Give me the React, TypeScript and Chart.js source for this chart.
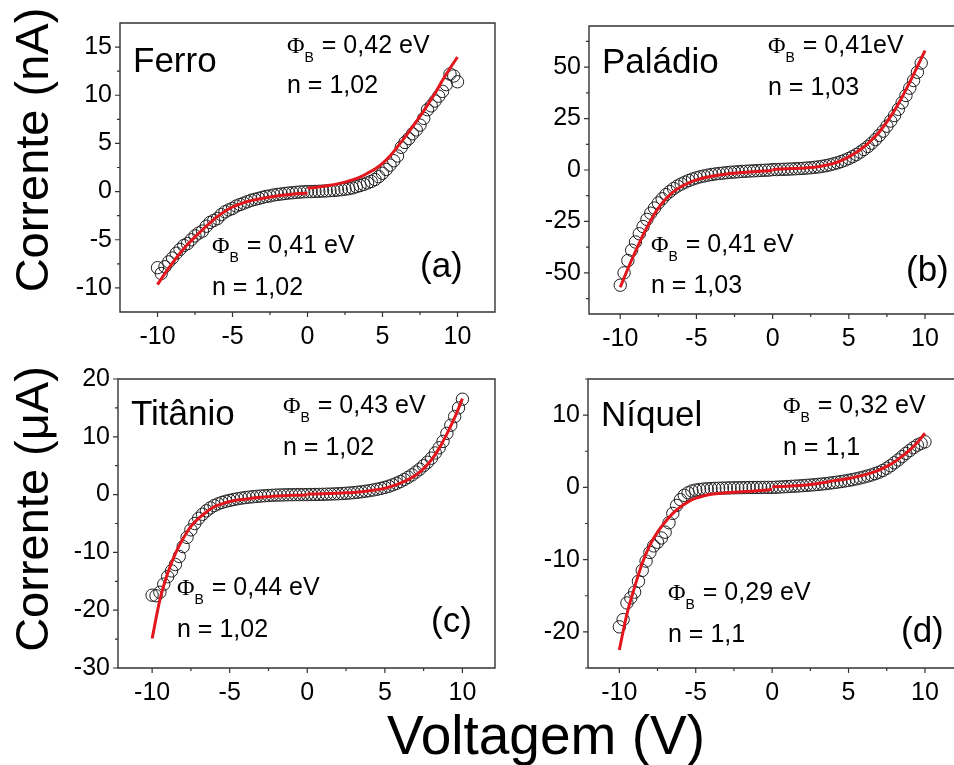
import React, { useEffect, useRef } from 'react';
import { Chart, registerables } from 'chart.js';

Chart.register(...registerables);

// ---------- data ----------
const VOLTAGE = [
  -10, -9.75, -9.5, -9.25, -9, -8.75, -8.5, -8.25, -8, -7.75,
  -7.5, -7.25, -7, -6.75, -6.5, -6.25, -6, -5.75, -5.5, -5.25,
  -5, -4.75, -4.5, -4.25, -4, -3.75, -3.5, -3.25, -3, -2.75,
  -2.5, -2.25, -2, -1.75, -1.5, -1.25, -1, -0.75, -0.5, -0.25,
  0,
  0.25, 0.5, 0.75, 1, 1.25, 1.5, 1.75, 2, 2.25, 2.5,
  2.75, 3, 3.25, 3.5, 3.75, 4, 4.25, 4.5, 4.75, 5,
  5.25, 5.5, 5.75, 6, 6.25, 6.5, 6.75, 7, 7.25, 7.5,
  7.75, 8, 8.25, 8.5, 8.75, 9, 9.25, 9.5, 9.75, 10,
];
const FIT_V_NEG = [-10, -9.5, -9, -8.5, -8, -7.5, -7, -6.5, -6, -5.5, -5, -4.5, -4, -3.5, -3, -2.5, -2, -1.5, -1, -0.5, 0];
const FIT_V_POS = [0, 0.5, 1, 1.5, 2, 2.5, 3, 3.5, 4, 4.5, 5, 5.5, 6, 6.5, 7, 7.5, 8, 8.5, 9, 9.5, 10];

// (a) Ferro, nA
const FERRO_I = [
  -7.9, -8.5, -7.8, -7.3, -6.9, -6.4, -6.0, -5.6, -5.4, -5.0,
  -4.6, -4.3, -4.1, -3.6, -3.2, -3.0, -2.8, -2.4, -2.1, -1.9,
  -1.75, -1.5, -1.35, -1.2, -1.05, -0.9, -0.8, -0.7, -0.6, -0.5,
  -0.45, -0.35, -0.3, -0.25, -0.2, -0.15, -0.12, -0.08, -0.05, -0.02,
  0,
  0.0, 0.02, 0.03, 0.05, 0.07, 0.1, 0.12, 0.15, 0.2, 0.25,
  0.3, 0.38, 0.5, 0.62, 0.75, 0.9, 1.05, 1.25, 1.55, 1.9,
  2.3, 2.75, 3.2, 3.7, 4.6, 5.1, 5.5, 6.0, 6.4, 6.9,
  7.6, 8.5, 8.9, 9.4, 9.9, 10.4, 11.1, 12.2, 12.0, 11.4,
];
const FERRO_FIT_NEG = [-9.66, -8.5, -7.4, -6.4, -5.5, -4.7, -3.96, -3.25, -2.6, -2.05, -1.6, -1.3, -1.03, -0.85, -0.69, -0.56, -0.45, -0.36, -0.27, -0.21, -0.17];
const FERRO_FIT_POS = [0.35, 0.43, 0.52, 0.65, 0.8, 0.98, 1.21, 1.5, 1.9, 2.35, 2.94, 3.7, 4.66, 5.65, 6.73, 7.8, 8.97, 10.2, 11.56, 12.8, 13.97];

// (b) Paládio, nA
const PALADIO_I = [
  -56, -50, -44, -39, -35, -31, -27.5, -24, -21, -18.5,
  -16, -14, -12, -10.5, -9, -7.8, -6.8, -5.9, -5.1, -4.4,
  -3.8, -3.3, -2.9, -2.5, -2.2, -1.9, -1.7, -1.5, -1.3, -1.1,
  -1.0, -0.85, -0.7, -0.6, -0.5, -0.4, -0.3, -0.2, -0.1, -0.05,
  0.2,
  0.2, 0.3, 0.35, 0.4, 0.5, 0.6, 0.7, 0.8, 0.95, 1.1,
  1.3, 1.5, 1.8, 2.1, 2.5, 3.0, 3.5, 4.1, 4.8, 5.6,
  6.5, 7.5, 8.7, 10.0, 11.4, 13.0, 14.8, 16.8, 18.9, 21.3,
  23.8, 26.5, 29.5, 32.7, 36.2, 39.8, 43.5, 47.5, 52, null,
];
const PALADIO_FIT_NEG = [-57, -48, -39.5, -31.5, -24.5, -18.5, -14, -10.5, -8, -6.2, -4.8, -3.8, -3.0, -2.4, -1.9, -1.55, -1.25, -1.0, -0.75, -0.5, -0.3];
const PALADIO_FIT_POS = [0.3, 0.45, 0.6, 0.75, 0.9, 1.2, 1.6, 2.3, 3.2, 4.6, 6.4, 8.6, 11.3, 14.6, 18.5, 23.4, 29, 35.5, 42.7, 50.3, 58];

// (c) Titânio, µA
const TITANIO_I = [
  -17.4, -17.5, -16.9, -15.5, -14.2, -13.2, -12.1, -10.7, -9.0, -7.4,
  -6.1, -5.0, -4.1, -3.4, -2.8, -2.3, -1.9, -1.6, -1.35, -1.15,
  -1.0, -0.85, -0.72, -0.62, -0.52, -0.44, -0.37, -0.3, -0.25, -0.2,
  -0.16, -0.12, -0.09, -0.07, -0.05, -0.03, -0.02, -0.01, 0, 0,
  0,
  0.01, 0.02, 0.03, 0.05, 0.07, 0.09, 0.12, 0.15, 0.19, 0.23,
  0.28, 0.34, 0.41, 0.49, 0.58, 0.68, 0.8, 0.93, 1.08, 1.25,
  1.45, 1.68, 1.95, 2.25, 2.6, 3.0, 3.4, 3.9, 4.4, 5.0,
  5.6, 6.3, 7.2, 8.1, 9.2, 10.6, 12.0, 13.5, 15.0, 16.5,
];
const TITANIO_FIT_NEG = [-24.9, -18.2, -13.6, -10.2, -7.6, -5.5, -4.1, -3.0, -2.1, -1.6, -1.2, -0.95, -0.8, -0.6, -0.47, -0.35, -0.24, -0.18, -0.13, -0.1, -0.07];
const TITANIO_FIT_POS = [0.1, 0.12, 0.15, 0.2, 0.25, 0.3, 0.38, 0.5, 0.67, 0.85, 1.1, 1.5, 2.0, 2.6, 3.4, 4.5, 6.0, 8.0, 10.5, 13.3, 16.6];

// (d) Níquel, µA
const NIQUEL_I = [
  -19.3, -18.3, -16.0, -15.3, -14.5, -13.0, -11.5, -10.2, -9.0, -8.1,
  -7.6, -7.0, -6.2, -4.9, -3.6, -2.5, -1.7, -1.1, -0.75, -0.5,
  -0.38, -0.3, -0.24, -0.2, -0.17, -0.14, -0.12, -0.1, -0.08, -0.07,
  -0.06, -0.05, -0.04, -0.03, -0.02, -0.02, -0.01, -0.01, 0, 0,
  0,
  0.02, 0.05, 0.08, 0.11, 0.14, 0.17, 0.2, 0.24, 0.28, 0.32,
  0.36, 0.41, 0.46, 0.52, 0.58, 0.65, 0.72, 0.8, 0.88, 0.97,
  1.07, 1.18, 1.3, 1.43, 1.57, 1.72, 1.9, 2.1, 2.35, 2.65,
  3.0, 3.4, 3.8, 4.25, 4.7, 5.1, 5.5, 5.85, 6.1, 6.3,
];
const NIQUEL_FIT_NEG = [-22.5, -17.5, -13.8, -10.5, -8.0, -6.2, -4.8, -3.6, -2.7, -2.0, -1.5, -1.2, -0.94, -0.85, -0.76, -0.69, -0.62, -0.55, -0.48, -0.4, -0.3];
const NIQUEL_FIT_POS = [0.07, 0.12, 0.17, 0.23, 0.3, 0.4, 0.53, 0.7, 0.9, 1.05, 1.23, 1.45, 1.7, 2.0, 2.4, 2.9, 3.5, 4.3, 5.15, 6.2, 7.5];

// tick values
const X_TICKS = [-10, -7.5, -5, -2.5, 0, 2.5, 5, 7.5, 10];
const X_LABELS = [-10, -5, 0, 5, 10];
const Y_TICKS_A = [-10, -7.5, -5, -2.5, 0, 2.5, 5, 7.5, 10, 12.5, 15];
const Y_LABELS_A = [-10, -5, 0, 5, 10, 15];
const Y_TICKS_B = [-62.5, -50, -37.5, -25, -12.5, 0, 12.5, 25, 37.5, 50, 62.5];
const Y_LABELS_B = [-50, -25, 0, 25, 50];
const Y_TICKS_C = [-30, -25, -20, -15, -10, -5, 0, 5, 10, 15, 20];
const Y_LABELS_C = [-30, -20, -10, 0, 10, 20];
const Y_TICKS_D = [-25, -20, -15, -10, -5, 0, 5, 10, 15];
const Y_LABELS_D = [-20, -10, 0, 10];

// ---------- layout / style ----------
const W = 954;
const H = 765;
const FONT = "'Liberation Sans', Arial, Helvetica, sans-serif";
const SERIF = "'Liberation Serif', 'Times New Roman', serif";
const RED = 'rgb(226, 22, 28)';
const AXIS = '#333333';
const Y_AXIS_W = 70;
const X_AXIS_H = 50;
const TICK_FONT = 25;
const NAME_FONT = 35;
const NOTE_FONT = 25;

type Txt = { kind: 'name' | 'phi' | 'plain' | 'tag'; text: string; x: number; y: number };

const PANELS = [
  {
    id: 'a', circles: FERRO_I, fitNeg: FERRO_FIT_NEG, fitPos: FERRO_FIT_POS,
    xMin: -12.5, xMax: 12.5, yMin: -12.5, yMax: 17.5,
    yTicks: Y_TICKS_A, yLabels: Y_LABELS_A,
    box: { left: 120, top: 23, right: 495, bottom: 312 }, closedRight: true,
    texts: [
      { kind: 'name', text: 'Ferro', x: 133, y: 72 },
      { kind: 'phi', text: ' = 0,42 eV', x: 287, y: 53 },
      { kind: 'plain', text: 'n = 1,02', x: 287, y: 93 },
      { kind: 'phi', text: ' = 0,41 eV', x: 212, y: 253 },
      { kind: 'plain', text: 'n = 1,02', x: 212, y: 295 },
      { kind: 'tag', text: '(a)', x: 420, y: 277 },
    ] as Txt[],
  },
  {
    id: 'b', circles: PALADIO_I, fitNeg: PALADIO_FIT_NEG, fitPos: PALADIO_FIT_POS,
    xMin: -12.05, xMax: 11.43, yMin: -70, yMax: 70,
    yTicks: Y_TICKS_B, yLabels: Y_LABELS_B,
    box: { left: 589, top: 26, right: 954, bottom: 314 }, closedRight: false,
    texts: [
      { kind: 'name', text: 'Paládio', x: 602, y: 73 },
      { kind: 'phi', text: ' = 0,41eV', x: 768, y: 53 },
      { kind: 'plain', text: 'n = 1,03', x: 768, y: 95 },
      { kind: 'phi', text: ' = 0,41 eV', x: 651, y: 252 },
      { kind: 'plain', text: 'n = 1,03', x: 651, y: 293 },
      { kind: 'tag', text: '(b)', x: 906, y: 281 },
    ] as Txt[],
  },
  {
    id: 'c', circles: TITANIO_I, fitNeg: TITANIO_FIT_NEG, fitPos: TITANIO_FIT_POS,
    xMin: -12.2, xMax: 12.1, yMin: -30, yMax: 20,
    yTicks: Y_TICKS_C, yLabels: Y_LABELS_C,
    box: { left: 118, top: 379, right: 495, bottom: 668 }, closedRight: true,
    texts: [
      { kind: 'name', text: 'Titânio', x: 131, y: 425 },
      { kind: 'phi', text: ' = 0,43 eV', x: 283, y: 413 },
      { kind: 'plain', text: 'n = 1,02', x: 283, y: 455 },
      { kind: 'phi', text: ' = 0,44 eV', x: 177, y: 595 },
      { kind: 'plain', text: 'n = 1,02', x: 177, y: 637 },
      { kind: 'tag', text: '(c)', x: 431, y: 632 },
    ] as Txt[],
  },
  {
    id: 'd', circles: NIQUEL_I, fitNeg: NIQUEL_FIT_NEG, fitPos: NIQUEL_FIT_POS,
    xMin: -12.05, xMax: 11.43, yMin: -25, yMax: 15,
    yTicks: Y_TICKS_D, yLabels: Y_LABELS_D,
    box: { left: 588, top: 379, right: 954, bottom: 668 }, closedRight: false,
    texts: [
      { kind: 'name', text: 'Níquel', x: 601, y: 426 },
      { kind: 'phi', text: ' = 0,32 eV', x: 783, y: 413 },
      { kind: 'plain', text: 'n = 1,1', x: 783, y: 455 },
      { kind: 'phi', text: ' = 0,29 eV', x: 668, y: 600 },
      { kind: 'plain', text: 'n = 1,1', x: 668, y: 642 },
      { kind: 'tag', text: '(d)', x: 901, y: 642 },
    ] as Txt[],
  },
];

type PanelCfg = (typeof PANELS)[number];

// frame + outward ticks
const framePlugin = {
  id: 'frame',
  afterDatasetsDraw(chart: any, _args: any, opts: any) {
    const { ctx, chartArea: ca, scales } = chart;
    ctx.save();
    ctx.strokeStyle = AXIS;
    ctx.lineWidth = 1.4;
    ctx.beginPath();
    if (opts.closedRight) {
      ctx.rect(ca.left, ca.top, ca.right - ca.left, ca.bottom - ca.top);
    } else {
      ctx.moveTo(W + 5, ca.top);
      ctx.lineTo(ca.left, ca.top);
      ctx.lineTo(ca.left, ca.bottom);
      ctx.lineTo(W + 5, ca.bottom);
    }
    ctx.stroke();
    ctx.lineWidth = 1.2;
    ctx.beginPath();
    for (const v of opts.xTicks) {
      const px = scales.x.getPixelForValue(v);
      const len = opts.xLabels.includes(v) ? 5 : 3;
      ctx.moveTo(px, ca.bottom);
      ctx.lineTo(px, ca.bottom + len);
    }
    for (const v of opts.yTicks) {
      const py = scales.y.getPixelForValue(v);
      const len = opts.yLabels.includes(v) ? 5 : 3;
      ctx.moveTo(ca.left, py);
      ctx.lineTo(ca.left - len, py);
    }
    ctx.stroke();
    ctx.restore();
  },
};

// annotation texts
const textPlugin = {
  id: 'panelText',
  afterDraw(chart: any, _args: any, opts: any) {
    const ctx = chart.ctx;
    ctx.save();
    ctx.fillStyle = '#000';
    ctx.textAlign = 'left';
    ctx.textBaseline = 'alphabetic';
    for (const t of opts.texts as Txt[]) {
      if (t.kind === 'name' || t.kind === 'tag') {
        ctx.font = `${NAME_FONT}px ${FONT}`;
        ctx.fillText(t.text, t.x, t.y);
      } else if (t.kind === 'plain') {
        ctx.font = `${NOTE_FONT}px ${FONT}`;
        ctx.fillText(t.text, t.x, t.y);
      } else {
        ctx.font = `24px ${SERIF}`;
        ctx.fillText('Φ', t.x, t.y);
        const wPhi = ctx.measureText('Φ').width;
        ctx.font = `14px ${FONT}`;
        ctx.fillText('B', t.x + wPhi, t.y + 9);
        const wB = ctx.measureText('B').width;
        ctx.font = `${NOTE_FONT}px ${FONT}`;
        ctx.fillText(t.text, t.x + wPhi + wB + 1, t.y);
      }
    }
    ctx.restore();
  },
};

function Panel({ cfg }: { cfg: PanelCfg }) {
  const ref = useRef<HTMLCanvasElement | null>(null);
  useEffect(() => {
    const canvas = ref.current;
    if (!canvas) return;
    const circleData = VOLTAGE.map((v, i) => ({ x: v, y: cfg.circles[i] })).filter((p) => p.y !== null);
    const negData = FIT_V_NEG.map((v, i) => ({ x: v, y: cfg.fitNeg[i] }));
    const posData = FIT_V_POS.map((v, i) => ({ x: v, y: cfg.fitPos[i] }));
    const fitStyle = {
      showLine: true,
      borderColor: RED,
      backgroundColor: RED,
      borderWidth: 3,
      pointRadius: 0,
      cubicInterpolationMode: 'monotone' as const,
      order: 0,
    };
    const b = cfg.box;
    const chart = new Chart(canvas, {
      type: 'scatter',
      data: {
        datasets: [
          { data: negData, ...fitStyle } as any,
          { data: posData, ...fitStyle } as any,
          {
            data: circleData,
            showLine: false,
            pointStyle: 'circle',
            pointRadius: 6.2,
            pointBorderWidth: 1,
            borderColor: '#1e1e1e',
            backgroundColor: 'rgba(255,255,255,0)',
            order: 1,
          } as any,
        ],
      },
      plugins: [framePlugin, textPlugin],
      options: {
        responsive: false,
        maintainAspectRatio: false,
        devicePixelRatio: 1,
        animation: false,
        events: [],
        layout: {
          padding: {
            left: b.left - Y_AXIS_W,
            top: b.top,
            right: W - b.right,
            bottom: H - b.bottom - X_AXIS_H,
          },
        },
        scales: {
          x: {
            type: 'linear',
            min: cfg.xMin,
            max: cfg.xMax,
            grid: { display: false, drawTicks: false },
            border: { display: false },
            afterBuildTicks: (s: any) => {
              s.ticks = X_TICKS.map((v) => ({ value: v }));
            },
            afterFit: (s: any) => {
              s.height = X_AXIS_H;
              s.paddingLeft = 0;
              s.paddingRight = 0;
              s.paddingTop = 0;
              s.paddingBottom = 0;
            },
            ticks: {
              autoSkip: false,
              maxRotation: 0,
              minRotation: 0,
              padding: 10,
              color: '#000',
              font: { family: FONT, size: TICK_FONT },
              callback: (val: any) => (X_LABELS.includes(Number(val)) ? String(val) : ''),
            },
          },
          y: {
            type: 'linear',
            min: cfg.yMin,
            max: cfg.yMax,
            grid: { display: false, drawTicks: false },
            border: { display: false },
            afterBuildTicks: (s: any) => {
              s.ticks = cfg.yTicks.map((v) => ({ value: v }));
            },
            afterFit: (s: any) => {
              s.width = Y_AXIS_W;
              s.paddingLeft = 0;
              s.paddingRight = 0;
              s.paddingTop = 0;
              s.paddingBottom = 0;
            },
            ticks: {
              autoSkip: false,
              padding: 8,
              color: '#000',
              font: { family: FONT, size: TICK_FONT },
              callback: (val: any) => (cfg.yLabels.includes(Number(val)) ? String(val) : ''),
            },
          },
        },
        plugins: {
          legend: { display: false },
          tooltip: { enabled: false },
          frame: { closedRight: cfg.closedRight, xTicks: X_TICKS, xLabels: X_LABELS, yTicks: cfg.yTicks, yLabels: cfg.yLabels },
          panelText: { texts: cfg.texts },
        } as any,
      },
    });
    return () => chart.destroy();
  }, [cfg]);
  return (
    <canvas
      ref={ref}
      width={W}
      height={H}
      style={{ position: 'absolute', left: 0, top: 0, width: W, height: H }}
    />
  );
}

const titleBase: React.CSSProperties = {
  position: 'absolute',
  fontFamily: FONT,
  color: '#000',
  whiteSpace: 'nowrap',
  textAlign: 'center',
};

export default function App() {
  return (
    <div style={{ position: 'absolute', left: 0, top: 0, width: W, height: H, overflow: 'hidden', background: '#fff' }}>
      {PANELS.map((p) => (
        <Panel key={p.id} cfg={p} />
      ))}
      <div
        style={{
          ...titleBase,
          left: 32 - 200,
          top: 150 - 24,
          width: 400,
          height: 48,
          fontSize: 47,
          lineHeight: '48px',
          transform: 'rotate(-90deg)',
        }}
      >
        Corrente (nA)
      </div>
      <div
        style={{
          ...titleBase,
          left: 32 - 200,
          top: 509 - 24,
          width: 400,
          height: 48,
          fontSize: 47,
          lineHeight: '48px',
          transform: 'rotate(-90deg)',
        }}
      >
        Corrente (μA)
      </div>
      <div
        style={{
          ...titleBase,
          left: 546 - 300,
          top: 708,
          width: 600,
          height: 55,
          fontSize: 55,
          lineHeight: '55px',
        }}
      >
        Voltagem (V)
      </div>
    </div>
  );
}
